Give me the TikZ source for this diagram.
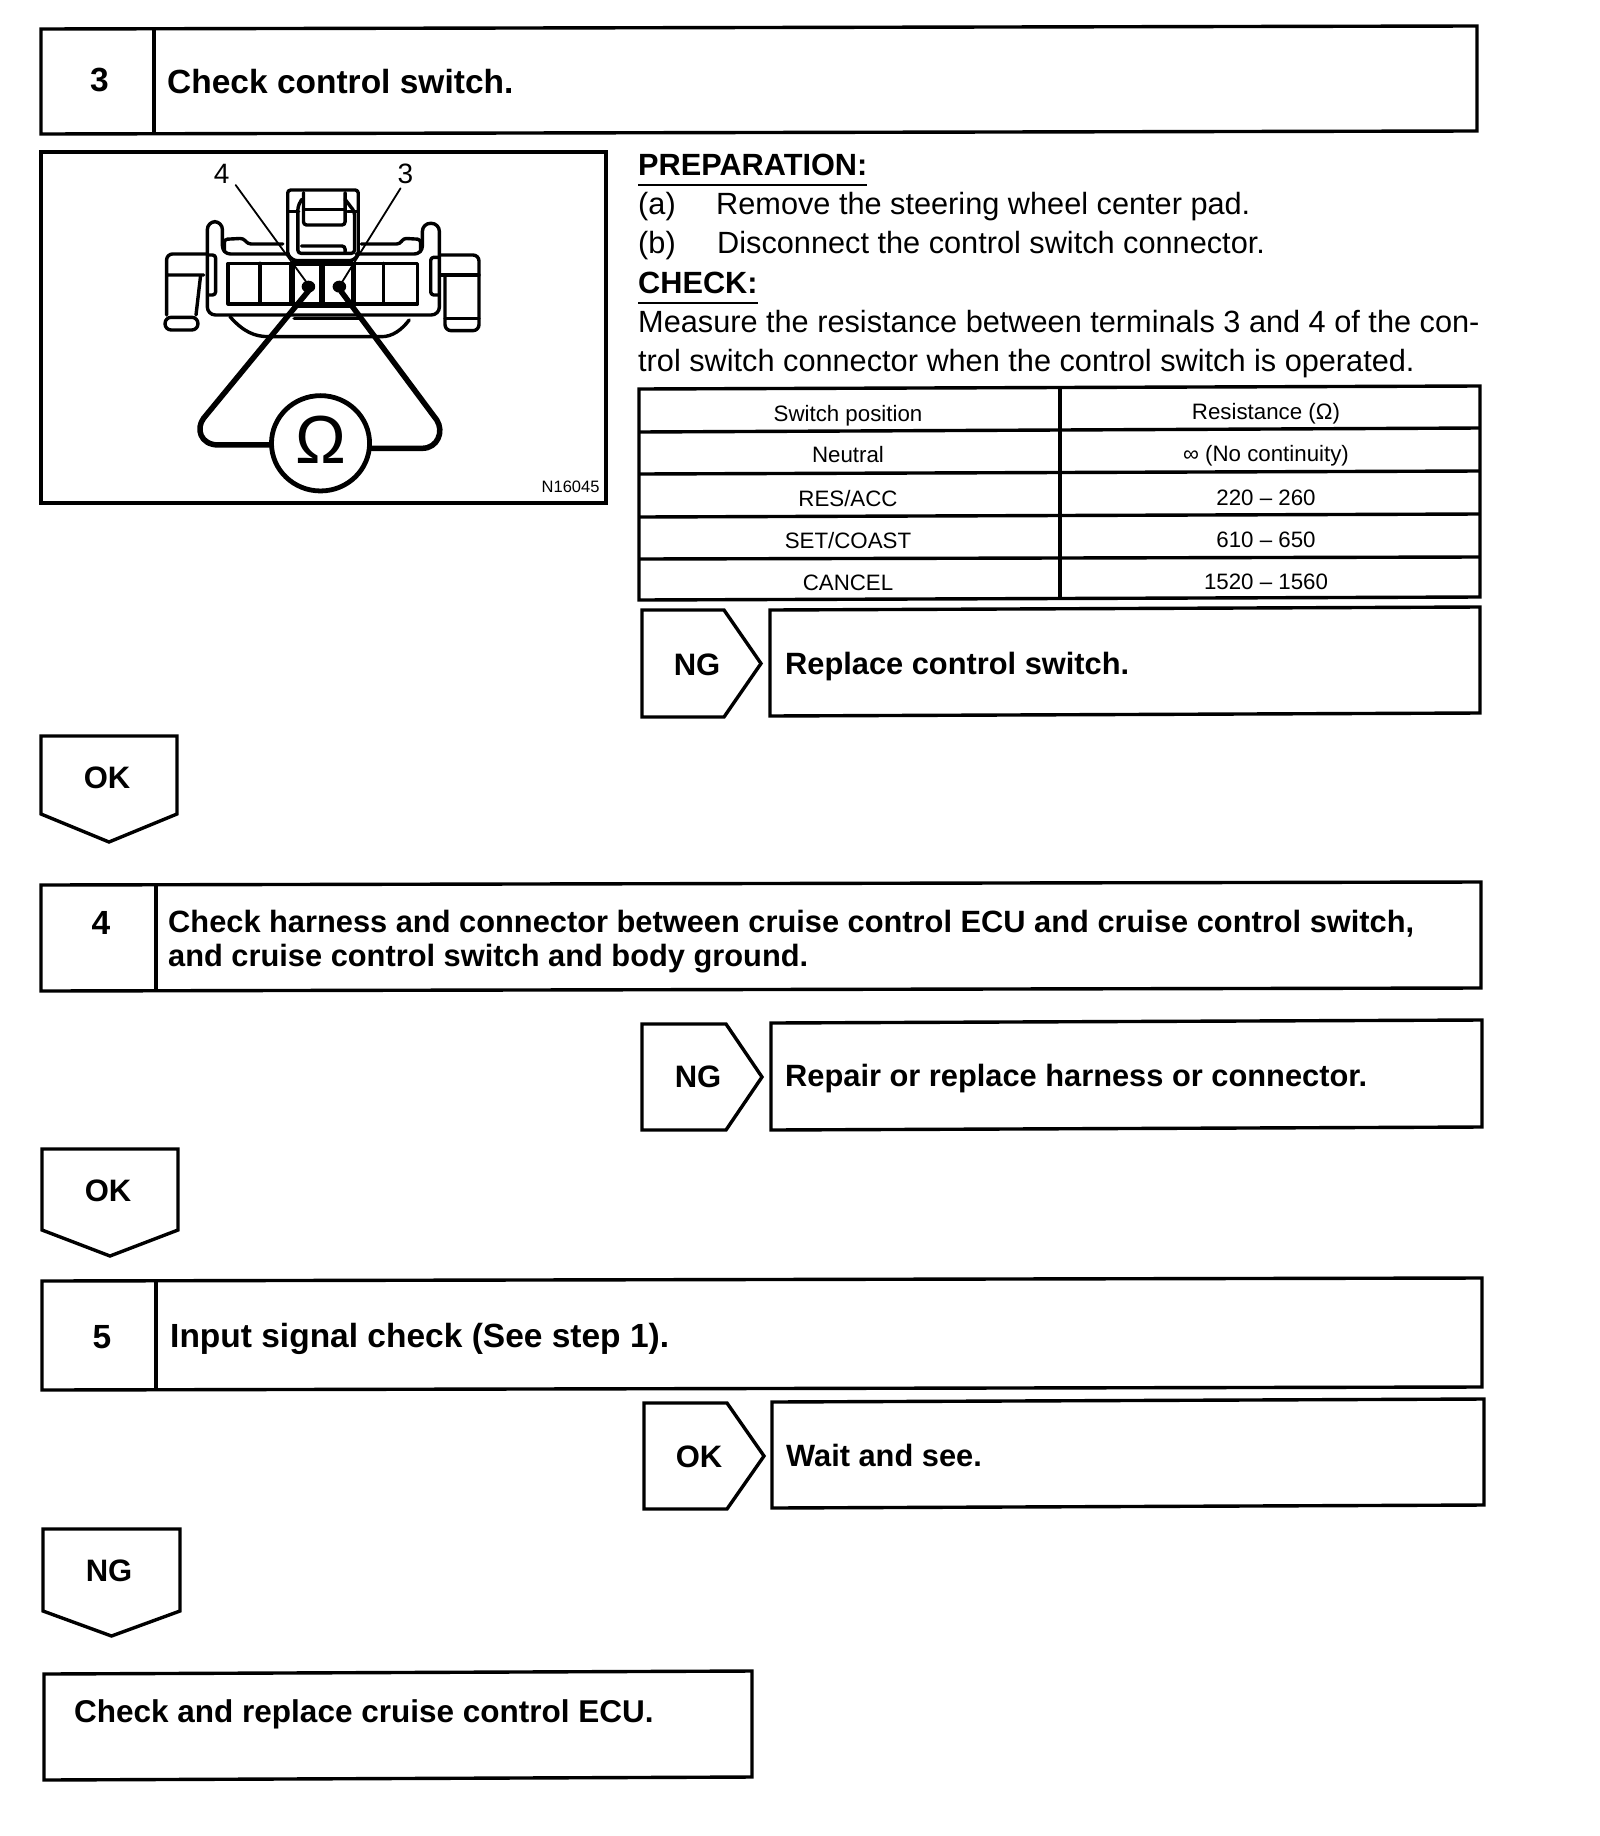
\documentclass[tikz,border=0pt]{standalone}
\usepackage{fontspec}
\setmainfont{Liberation Sans}
\usetikzlibrary{calc}
\tikzset{
  ln/.style={draw=black,line width=3.4pt,line join=miter},
  thinln/.style={draw=black,line width=1.8pt,line cap=round,line join=round},
  medln/.style={draw=black,line width=3.4pt,line cap=round,line join=round,rounded corners=3pt},
  lead/.style={draw=black,line width=5.5pt,line cap=round,line join=round},
  bt/.style={inner sep=0pt,font=\fontsize{30.8}{34}\selectfont\bfseries,anchor=base west},
  bl/.style={inner sep=0pt,font=\fontsize{33.5}{36}\selectfont\bfseries,anchor=base west},
  bc/.style={inner sep=0pt,font=\fontsize{33.5}{36}\selectfont\bfseries,anchor=base},
  tg/.style={inner sep=0pt,font=\fontsize{31}{33}\selectfont\bfseries,anchor=base},
  rt/.style={inner sep=0pt,font=\fontsize{30.7}{33}\selectfont,anchor=base west},
  rb/.style={inner sep=0pt,font=\fontsize{30.7}{33}\selectfont\bfseries,anchor=base west},
  tt/.style={inner sep=0pt,font=\fontsize{22.3}{25}\selectfont,anchor=base},
}
% box: name x0 y0 x1 y1 (skew up to the right)
\newcommand{\bx}[5]{\draw[ln] (#2,#3) -- (#4,{#3-3}) -- (#4,{#5-3}) -- (#2,#5) -- cycle;
  \coordinate (#1) at ({(#2+#4)/2},{(#3+#5)/2});}
% right-pointing tag x0 y0 shoulder tip y1
\newcommand{\rtag}[5]{\draw[ln] (#1,#2) -- (#3,#2) -- (#4,{(#2+#5)/2}) -- (#3,#5) -- (#1,#5) -- cycle;}
% down-pointing tag x0 y0 x1 side tipy
\newcommand{\dtag}[5]{\draw[ln] (#1,#2) -- (#3,#2) -- (#3,#4) -- ({(#1+#3)/2},#5) -- (#1,#4) -- cycle;}
\begin{document}
\begin{tikzpicture}[x=1pt,y=-1pt]
\useasboundingbox[fill=white] (0,0) rectangle (1600,1836);
% step 3
\bx{b3}{41}{29}{1477}{134}
\draw[ln] (154,28) -- (154,133);
\node[bc] (n3) at (99.5,92) {3};
\node[bl] (t3) at (167,93.5) {Check control switch.};
% figure frame
\draw[ln] (41,152) rectangle (606,503);
\begin{scope}[shift={(30,140)},x=.3773pt,y=-.3333pt]
  % central latch
  \draw[medln] (683,345) -- (683,150) -- (870,150) -- (870,345) -- (855,362) -- (700,362) -- cycle;
  \draw[medln] (720,178) -- (710,200) -- (710,340) -- (860,340) -- (860,215) -- (835,178);
  \draw[medln] (725,158) -- (725,255) -- (835,255) -- (835,158);
  \draw[medln] (725,208) -- (835,208);
  \draw[medln] (720,318) -- (835,318) -- (835,335);
  \draw[medln] (685,215) -- (712,215) (842,215) -- (870,215);
  % body
  \draw[medln,rounded corners=8pt] (680,342) -- (510,342) -- (510,245) -- (470,245) -- (470,525) -- (1085,525) -- (1085,250) -- (1040,250) -- (1040,342) -- (865,342);
  \draw[medln] (515,335) -- (515,298) -- (565,295) -- (578,312) -- (670,312);
  \draw[medln] (1035,335) -- (1035,298) -- (990,295) -- (980,312) -- (878,312);
  % windows
  \draw[medln,rounded corners=0pt] (525,370) rectangle (1027,492);
  \draw[medln,rounded corners=0pt] (610,370) -- (610,492) (937,370) -- (937,492);
  \draw[lead,line cap=butt] (695,370) -- (695,495) (857,370) -- (857,495) (695,370) -- (857,370) (695,495) -- (857,495);
  \draw[draw=black,line width=6pt] (775,370) -- (775,500);
  % side bars
  \draw[medln] (475,345) -- (492,345) -- (492,465) -- (475,465);
  \draw[medln] (1082,352) -- (1062,352) -- (1062,465) -- (1082,465);
  % handles
  \draw[medln,rounded corners=6pt] (470,342) -- (362,342) -- (362,525) (362,405) -- (460,405);
  \draw[medln] (452,408) -- (440,525);
  \draw[medln,rounded corners=6pt] (358,532) -- (445,532) -- (445,570) -- (358,570) -- cycle;
  \draw[medln,rounded corners=6pt] (1088,345) -- (1190,345) -- (1190,572) -- (1100,572) -- (1100,412);
  \draw[medln] (1088,405) -- (1190,405) (1100,535) -- (1190,535);
  % belly
  \draw[medln] (530,530) .. controls (565,575) and (595,590) .. (640,590) -- (925,590) .. controls (960,590) and (985,570) .. (1005,540);
  \draw[medln] (700,535) -- (880,535);
  % pointers
  \draw[thinln] (545,135) -- (738,435);
  \draw[thinln] (982,145) -- (825,430);
  % terminals and leads
  \fill (738,440) ellipse [x radius=18,y radius=18];
  \fill (820,440) ellipse [x radius=18,y radius=18];
  \draw[lead] (740,450) -- (460,835) .. controls (440,865) and (450,915) .. (500,915) -- (640,915);
  \draw[lead] (825,455) -- (1078,840) .. controls (1098,875) and (1080,925) .. (1040,925) -- (905,925);
  \draw[draw=black,fill=white,line width=4.8pt] (770,910) ellipse [x radius=130,y radius=143];
  \node[inner sep=0pt,font=\fontsize{68}{68}\selectfont] (om) at (770,900) {Ω};
  \node[inner sep=0pt,font=\fontsize{28}{28}\selectfont] (l4) at (508,103) {4};
  \node[inner sep=0pt,font=\fontsize{28}{28}\selectfont] (l3) at (995,103) {3};
  \node[inner sep=0pt,font=\fontsize{16.5}{16}\selectfont,anchor=east] (code) at (1510,1042) {N16045};
\end{scope}
% preparation text
\node[rb] (prep) at (638,175) {PREPARATION:};
\draw[line width=2pt] (638,185) -- (867,185);
\node[rt] (a1) at (638,214) {(a)};
\node[rt] (a2) at (716,214) {Remove the steering wheel center pad.};
\node[rt] (b1) at (638,253) {(b)};
\node[rt] (b2) at (717,253) {Disconnect the control switch connector.};
\node[rb] (chk) at (638,293) {CHECK:};
\draw[line width=2pt] (638,303) -- (758,303);
\node[rt] (m1) at (638,332) {Measure the resistance between terminals 3 and 4 of the con-};
\node[rt] (m2) at (638,371) {trol switch connector when the control switch is operated.};
% table
\draw[ln] (639,389) -- (1480,386) -- (1480,597) -- (639,600) -- cycle;
\draw[ln] (639,432) -- (1480,428);
\draw[ln] (639,474) -- (1480,471);
\draw[ln] (640,517) -- (1480,514);
\draw[ln] (640,559) -- (1480,557);
\draw[ln] (1060,388) -- (1060,599);
\node[tt] (h1) at (848,421) {Switch position};
\node[tt] (h2) at (1266,419) {Resistance (Ω)};
\node[tt] (r1a) at (848,462) {Neutral};
\node[tt] (r1b) at (1266,461) {∞ (No continuity)};
\node[tt] (r2a) at (848,506) {RES/ACC};
\node[tt] (r2b) at (1266,505) {220 – 260};
\node[tt] (r3a) at (848,548) {SET/COAST};
\node[tt] (r3b) at (1266,547) {610 – 650};
\node[tt] (r4a) at (848,590) {CANCEL};
\node[tt] (r4b) at (1266,589) {1520 – 1560};
% NG 1
\rtag{642}{610}{724}{761}{717}
\node[tg] (ng1) at (697,675) {NG};
\bx{r1}{770}{610}{1480}{716}
\node[bt] (r1t) at (785,674) {Replace control switch.};
% OK 1
\dtag{41}{736}{177}{814}{842}
\node[tg] (ok1) at (107,788) {OK};
% step 4
\bx{b4}{41}{885}{1481}{991}
\draw[ln] (156,885) -- (156,990);
\node[bc] (n4) at (101,934) {4};
\node[bt] (t4a) at (168,932) {Check harness and connector between cruise control ECU and cruise control switch,};
\node[bt] (t4b) at (168,966) {and cruise control switch and body ground.};
% NG 2
\rtag{642}{1024}{726}{762}{1130}
\node[tg] (ng2) at (698,1087) {NG};
\bx{r2}{771}{1023}{1482}{1130}
\node[bt] (r2t) at (785,1086) {Repair or replace harness or connector.};
% OK 2
\dtag{42}{1149}{178}{1230}{1256}
\node[tg] (ok2) at (108,1201) {OK};
% step 5
\bx{b5}{42}{1281}{1482}{1390}
\draw[ln] (156,1281) -- (156,1389);
\node[bc] (n5) at (102,1348) {5};
\node[bl] (t5) at (170,1347) {Input signal check (See step 1).};
% OK 3
\rtag{644}{1403}{727}{764}{1509}
\node[tg] (ok3) at (699,1467) {OK};
\bx{r3}{772}{1402}{1484}{1508}
\node[bt] (r3t) at (786,1466) {Wait and see.};
% NG 3
\dtag{43}{1529}{180}{1611}{1636}
\node[tg] (ng3) at (109,1581) {NG};
% final
\bx{r4}{44}{1674}{752}{1780}
\node[bt,font=\fontsize{31.5}{34}\selectfont\bfseries] (r4t) at (74,1722) {Check and replace cruise control ECU.};
\end{tikzpicture}
\end{document}
